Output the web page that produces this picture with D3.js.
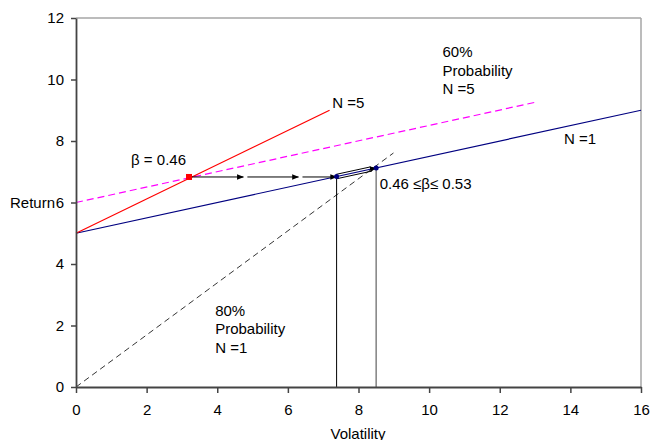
<!DOCTYPE html>
<html>
<head>
<meta charset="utf-8">
<script src="https://cdn.jsdelivr.net/npm/d3@7"></script>
<style>
  body { margin: 0; background: #fff; }
  svg text { font-family: "Liberation Sans", Arial, sans-serif; font-size: 15px; fill: #000; }
</style>
</head>
<body>
<svg id="chart"></svg>
<script>
// data
var xDomain = [0, 16];
var yDomain = [0, 12];
var xTicks = [0, 2, 4, 6, 8, 10, 12, 14, 16];
var yTicks = [0, 2, 4, 6, 8, 10, 12];

var lineN1 = [[0, 5], [16, 9]];          // navy, N =1
var lineN5 = [[0, 5], [7.18, 9]];        // red, N =5
var line60 = [[0, 6], [13.05, 9.27]];    // magenta dashed, 60% N=5
var line80 = [[0, 0], [8.99, 7.61]];     // black dashed, 80% N=1

var betaPoint = [3.2, 6.83];
var arrowStops = [3.2, 4.74, 6.3, 7.38]; // horizontal arrow run
var rangePts = [[7.38, 6.845], [8.5, 7.125]];

var labels = [
  { x: 7.26, y: 9.07, lines: ["N =5"] },
  { x: 10.38, y: 10.73, lines: ["60%", "Probability", "N =5"] },
  { x: 13.82, y: 7.9, lines: ["N =1"] },
  { x: 1.56, y: 7.22, lines: ["\u03b2 = 0.46"] },
  { x: 8.6, y: 6.44, lines: ["0.46 \u2264\u03b2\u2264 0.53"] },
  { x: 3.94, y: 2.31, lines: ["80%", "Probability", "N =1"] }
];

// layout
var width = 650, height = 440;
var plotLeft = 76, plotRight = 641, plotTop = 18, plotBottom = 387;

var svg = d3.select('#chart').attr('width', width).attr('height', height);

var x = d3.scaleLinear().domain(xDomain).range([plotLeft, plotRight]);
var y = d3.scaleLinear().domain(yDomain).range([plotBottom, plotTop]);

var defs = svg.append('defs');
defs.append('marker')
  .attr('id', 'arr')
  .attr('viewBox', '0 0 10 10')
  .attr('refX', 9).attr('refY', 5)
  .attr('markerWidth', 7).attr('markerHeight', 7)
  .attr('markerUnits', 'userSpaceOnUse')
  .attr('orient', 'auto')
  .append('path').attr('d', 'M0,1 L10,5 L0,9 Z').attr('fill', '#000');

// frame: top and right in grey
svg.append('line').attr('x1', plotLeft).attr('x2', plotRight).attr('y1', plotTop).attr('y2', plotTop)
  .attr('stroke', '#a6a6a6').attr('stroke-width', 1.5);
svg.append('line').attr('x1', plotRight).attr('x2', plotRight).attr('y1', plotTop).attr('y2', plotBottom)
  .attr('stroke', '#a6a6a6').attr('stroke-width', 1.5);

var line = d3.line().x(function (d) { return x(d[0]); }).y(function (d) { return y(d[1]); });

// series lines
svg.append('path').datum(line80).attr('d', line).attr('fill', 'none')
  .attr('stroke', '#000').attr('stroke-width', 0.8).attr('stroke-dasharray', '6,4');
svg.append('path').datum(line60).attr('d', line).attr('fill', 'none')
  .attr('stroke', '#ff00ff').attr('stroke-width', 1.2).attr('stroke-dasharray', '7,4');
svg.append('path').datum(lineN1).attr('d', line).attr('fill', 'none')
  .attr('stroke', '#000080').attr('stroke-width', 1.2);
svg.append('path').datum(lineN5).attr('d', line).attr('fill', 'none')
  .attr('stroke', '#ff0000').attr('stroke-width', 1.2);

// vertical drop lines
svg.append('line')
  .attr('x1', x(rangePts[0][0])).attr('x2', x(rangePts[0][0]))
  .attr('y1', y(rangePts[0][1])).attr('y2', y(0))
  .attr('stroke', '#000').attr('stroke-width', 1);
svg.append('line')
  .attr('x1', x(rangePts[1][0])).attr('x2', x(rangePts[1][0]))
  .attr('y1', y(rangePts[1][1])).attr('y2', y(0))
  .attr('stroke', '#808080').attr('stroke-width', 1.5);

// horizontal arrow from beta point to N=1 line
for (var i = 0; i < arrowStops.length - 1; i++) {
  var gap = i === 0 ? 0 : 4;
  svg.append('line')
    .attr('x1', x(arrowStops[i]) + gap).attr('x2', x(arrowStops[i + 1]))
    .attr('y1', y(betaPoint[1])).attr('y2', y(betaPoint[1]))
    .attr('stroke', '#000').attr('stroke-width', 1)
    .attr('marker-end', 'url(#arr)');
}

// hollow arrow along N=1 line between the two points
var p0 = [x(rangePts[0][0]), y(rangePts[0][1])];
var p1 = [x(rangePts[1][0]), y(rangePts[1][1])];
var dx = p1[0] - p0[0], dy = p1[1] - p0[1];
var len = Math.sqrt(dx * dx + dy * dy);
var nx = -dy / len, ny = dx / len;
[-2.2, 2.2].forEach(function (o) {
  svg.append('line')
    .attr('x1', p0[0] + nx * o).attr('y1', p0[1] + ny * o)
    .attr('x2', p1[0] + nx * o - dx / len * 5).attr('y2', p1[1] + ny * o - dy / len * 5)
    .attr('stroke', '#000').attr('stroke-width', 1);
});
svg.append('line')
  .attr('x1', p0[0]).attr('y1', p0[1]).attr('x2', p1[0]).attr('y2', p1[1])
  .attr('stroke', 'none').attr('marker-end', 'url(#arr)');

// points on N=1
svg.selectAll('circle.pt').data(rangePts).enter().append('circle')
  .attr('class', 'pt')
  .attr('cx', function (d) { return x(d[0]); })
  .attr('cy', function (d) { return y(d[1]); })
  .attr('r', 2.5).attr('fill', '#000080');

// beta marker
svg.append('rect')
  .attr('x', x(betaPoint[0]) - 3).attr('y', y(betaPoint[1]) - 3)
  .attr('width', 6).attr('height', 6).attr('fill', '#ff0000');

// axes
var xAxis = svg.append('g').attr('transform', 'translate(0,' + plotBottom + ')')
  .call(d3.axisBottom(x).tickValues(xTicks).tickSize(6).tickPadding(11).tickSizeOuter(0));
var yAxis = svg.append('g').attr('transform', 'translate(' + plotLeft + ',0)')
  .call(d3.axisLeft(y).tickValues(yTicks).tickSize(5).tickPadding(7).tickSizeOuter(0));
[xAxis, yAxis].forEach(function (a) {
  a.select('.domain').attr('stroke', '#444').attr('stroke-width', 1.8);
  a.selectAll('.tick line').attr('stroke', '#444').attr('stroke-width', 1.5);
  a.selectAll('text').attr('font-size', 15).attr('font-family', '"Liberation Sans", Arial, sans-serif').attr('fill', '#000');
});

// axis titles
svg.append('text').attr('x', 358).attr('y', 439).attr('text-anchor', 'middle').text('Volatility');
svg.append('text').attr('x', 55).attr('y', y(6)).attr('dy', '0.35em')
  .attr('text-anchor', 'end').text('Return');

// annotations
labels.forEach(function (l) {
  var t = svg.append('text').attr('x', x(l.x)).attr('y', y(l.y));
  l.lines.forEach(function (s, i) {
    t.append('tspan').attr('x', x(l.x)).attr('dy', i === 0 ? 0 : 18.5).text(s);
  });
});
</script>
</body>
</html>
